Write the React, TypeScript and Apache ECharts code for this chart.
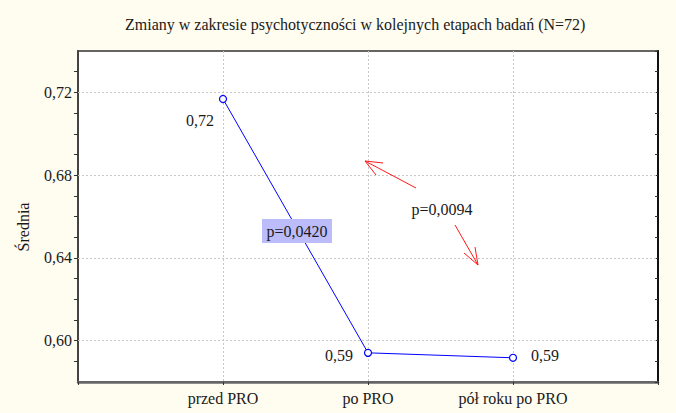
import React, { useEffect, useRef } from "react";
import * as echarts from "echarts";

const title = "Zmiany w zakresie psychotyczności w kolejnych etapach badań (N=72)";
const categories = ["", "przed PRO", "po PRO", "pół roku po PRO", ""];
const means = [null, 0.7168, 0.5941, 0.5917, null];
const meanLabels = ["", "0,72", "0,59", "0,59", ""];
const yMajorTicks = [0.6, 0.64, 0.68, 0.72];
const yMin = 0.58;
const yMax = 0.74;
const yStep = 0.01;
const pLabels = ["p=0,0420", "p=0,0094"];

const FONT = "'Liberation Serif', 'Times New Roman', serif";

export default function App() {
  const ref = useRef<HTMLDivElement>(null);
  useEffect(() => {
    if (!ref.current) return;
    const chart = echarts.init(ref.current, undefined, { renderer: "svg" });
    const labelCfg = [
      null,
      { position: "left", distance: 5, offset: [0, 22] },
      { position: "left", distance: 11, offset: [0, 3] },
      { position: "right", distance: 14, offset: [0, -2] },
      null,
    ];
    const data = means.map((v, i) =>
      v === null
        ? null
        : {
            value: v,
            label: {
              show: true,
              formatter: meanLabels[i],
              color: "#1a1a1a",
              fontSize: 16,
              fontFamily: FONT,
              ...(labelCfg[i] as any),
            },
          }
    );
    const yLabelFmt = (v: number) => {
      const r = Math.round(v * 100);
      return yMajorTicks.some((t) => Math.round(t * 100) === r)
        ? v.toFixed(2).replace(".", ",")
        : "";
    };
    const red = { stroke: "#ff1a1a", lineWidth: 1 };
    chart.setOption({
      animation: false,
      backgroundColor: "#fffcf0",
      title: {
        text: title,
        left: 120,
        top: 11,
        textStyle: { fontFamily: FONT, fontSize: 16, fontWeight: "normal", color: "#1a1a1a" },
      },
      grid: {
        left: 78,
        right: 18,
        top: 51,
        bottom: 31,
        show: true,
        backgroundColor: "#ffffff",
        borderColor: "#333",
        borderWidth: 1.5,
      },
      xAxis: {
        type: "category",
        data: categories,
        boundaryGap: false,
        axisLine: { lineStyle: { color: "#666", width: 2.5 } },
        axisTick: { show: true, length: 3, lineStyle: { color: "#333" } },
        axisLabel: { color: "#1a1a1a", fontSize: 16, fontFamily: FONT, margin: 8 },
        splitLine: { show: true, lineStyle: { color: "#c8c8c8", type: [2, 2], width: 1 } },
      },
      yAxis: [
        {
          type: "value",
          min: yMin,
          max: yMax,
          interval: yStep,
          axisLine: { show: true, lineStyle: { color: "#444", width: 2 } },
          axisTick: { show: true, length: 4, lineStyle: { color: "#333" } },
          axisLabel: {
            formatter: yLabelFmt,
            color: "#1a1a1a",
            fontSize: 16,
            fontFamily: FONT,
            margin: 6,
            showMinLabel: false,
            showMaxLabel: false,
          },
          splitLine: { show: false },
        },
        {
          type: "value",
          position: "right",
          min: yMin,
          max: yMax,
          interval: yStep,
          axisLine: { show: true, lineStyle: { color: "#111", width: 2 } },
          axisTick: { show: true, inside: true, length: 3, lineStyle: { color: "#333" } },
          axisLabel: { show: false },
          splitLine: { show: false },
        },
      ],
      series: [
        {
          type: "line",
          data,
          yAxisIndex: 0,
          connectNulls: false,
          lineStyle: { color: "#0000ff", width: 1 },
          itemStyle: { color: "#ffffff", borderColor: "#0000ff", borderWidth: 1.2 },
          symbol: "circle",
          symbolSize: 7,
          showAllSymbol: true,
          z: 5,
          markLine: {
            silent: true,
            symbol: "none",
            label: { show: false },
            lineStyle: { color: "#c8c8c8", type: [2, 2], width: 1 },
            data: yMajorTicks.map((t) => ({ yAxis: t })),
            z: 1,
          },
        },
      ],
      graphic: [
        {
          type: "text",
          x: 23,
          y: 227,
          rotation: Math.PI / 2,
          style: {
            text: "Średnia",
            fontFamily: FONT,
            fontSize: 16,
            fill: "#1a1a1a",
            textAlign: "center",
            textVerticalAlign: "middle",
          },
        },
        {
          type: "rect",
          shape: { x: 262, y: 219, width: 70, height: 24 },
          style: { fill: "#bcbcfa" },
          z: 10,
        },
        {
          type: "text",
          x: 297,
          y: 231,
          z: 11,
          style: {
            text: pLabels[0],
            fontFamily: FONT,
            fontSize: 16,
            fill: "#1a1a1a",
            textAlign: "center",
            textVerticalAlign: "middle",
          },
        },
        {
          type: "text",
          x: 442,
          y: 209,
          z: 11,
          style: {
            text: pLabels[1],
            fontFamily: FONT,
            fontSize: 16,
            fill: "#1a1a1a",
            textAlign: "center",
            textVerticalAlign: "middle",
          },
        },
        { type: "line", shape: { x1: 416, y1: 188, x2: 365, y2: 161 }, style: red, z: 10 },
        { type: "line", shape: { x1: 365, y1: 161, x2: 383, y2: 163 }, style: red, z: 10 },
        { type: "line", shape: { x1: 365, y1: 161, x2: 376, y2: 175 }, style: red, z: 10 },
        { type: "line", shape: { x1: 455, y1: 225, x2: 478, y2: 265 }, style: red, z: 10 },
        { type: "line", shape: { x1: 478, y1: 265, x2: 464, y2: 253 }, style: red, z: 10 },
        { type: "line", shape: { x1: 478, y1: 265, x2: 475, y2: 247 }, style: red, z: 10 },
      ],
    });
    return () => chart.dispose();
  }, []);
  return (
    <div
      ref={ref}
      style={{ position: "absolute", left: 0, top: 0, width: 676, height: 413 }}
    />
  );
}
